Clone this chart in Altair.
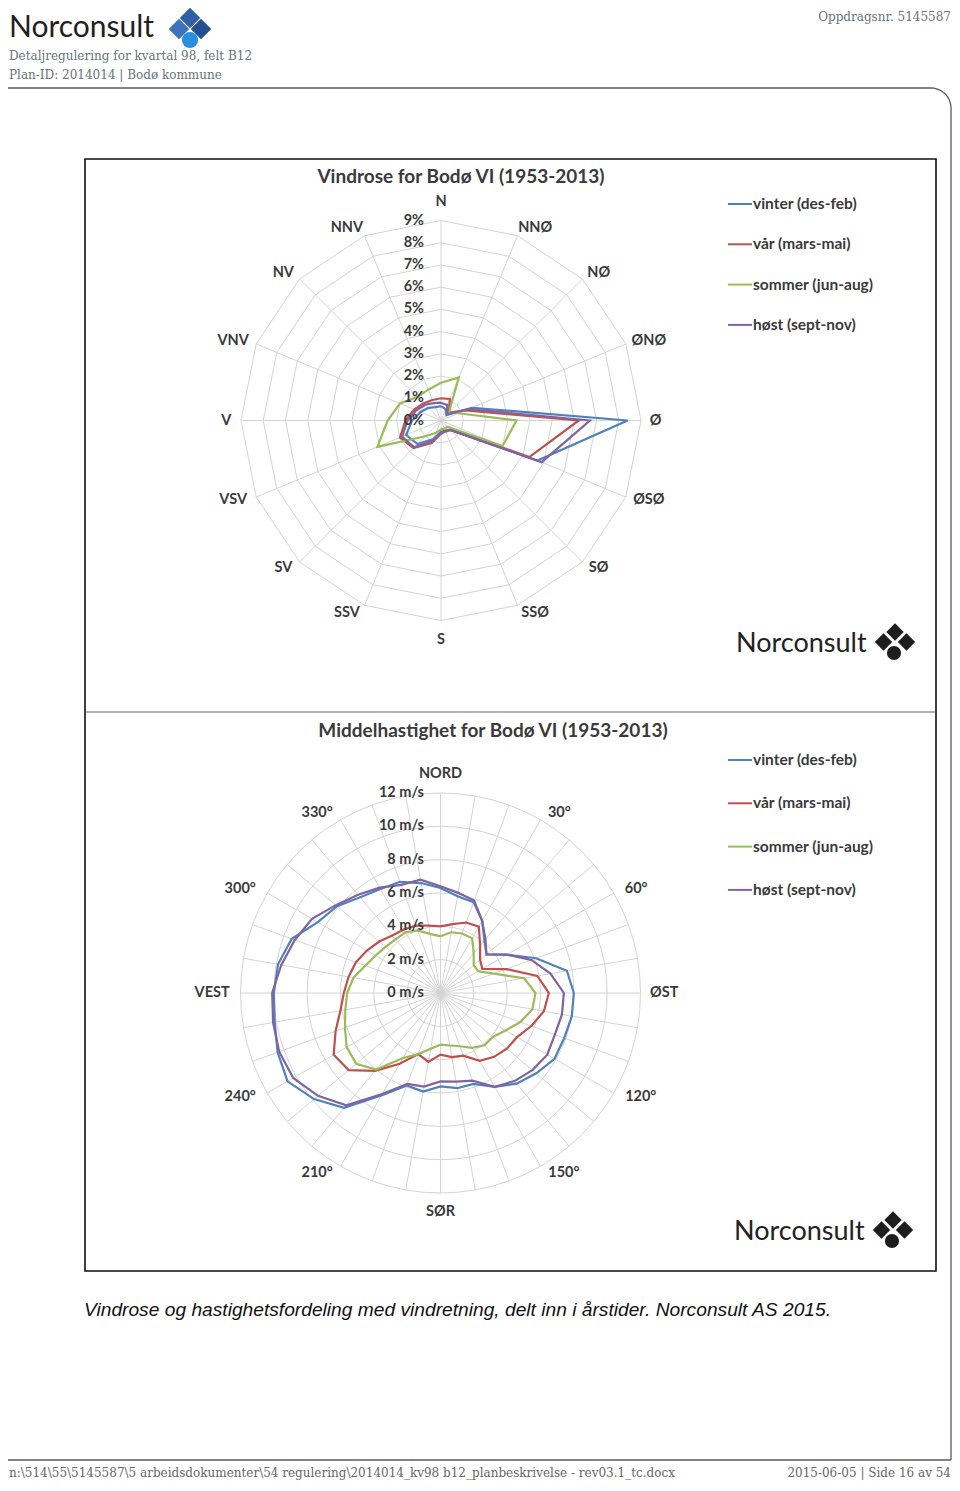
import math
import altair as alt
import pandas as pd
import numpy as np

# ---------------- data ----------------
directions16 = ["N", "NNØ", "NØ", "ØNØ", "Ø", "ØSØ", "SØ", "SSØ",
                "S", "SSV", "SV", "VSV", "V", "VNV", "NV", "NNV"]
seasons = ["vinter (des-feb)", "vår (mars-mai)", "sommer (jun-aug)", "høst (sept-nov)"]
season_colors = ["#4f81bd", "#c0504d", "#9bbb59", "#8064a2"]

# frequency (%) per direction, N clockwise
freq_vinter = [0.65, 0.55, 0.35, 1.5, 8.4, 4.7, 0.6, 0.5, 0.5, 0.9, 1.5, 1.7, 1.3, 1.0, 0.8, 0.65]
freq_var    = [1.0, 1.05, 0.5, 1.2, 6.2, 4.3, 0.6, 0.5, 0.6, 1.1, 1.75, 2.0, 1.6, 1.3, 1.1, 1.0]
freq_sommer = [1.7, 2.1, 0.5, 0.85, 3.4, 3.0, 0.4, 0.4, 0.4, 0.6, 1.0, 3.1, 2.4, 2.0, 1.5, 1.5]
freq_host   = [0.8, 0.75, 0.4, 1.35, 6.7, 4.9, 0.6, 0.55, 0.55, 1.0, 1.7, 1.9, 1.5, 1.2, 1.0, 0.85]
pct_ticks = ["0%", "1%", "2%", "3%", "4%", "5%", "6%", "7%", "8%", "9%"]

# mean speed (m/s) per 10 degrees, 0..350
speed_angles = list(range(0, 360, 10))
speed_vinter = [6.3, 5.9, 5.8, 5.0, 4.1, 3.6, 4.6, 6.1, 7.7, 8.0, 8.0, 7.9,
                7.9, 7.5, 7.1, 6.5, 5.8, 5.8, 5.6, 6.0, 5.9, 7.1, 9.0, 9.9,
                10.6, 10.4, 10.1, 10.0, 9.9, 9.5, 8.5, 8.1, 7.5, 7.2, 7.1, 6.7]
speed_var = [4.0, 4.2, 4.5, 4.6, 3.7, 3.1, 2.9, 4.2, 5.9, 6.5, 6.3, 5.8,
             5.3, 5.2, 5.0, 4.7, 4.0, 3.9, 3.7, 4.2, 3.9, 4.9, 6.1, 7.2,
             7.4, 6.7, 6.1, 5.8, 5.6, 5.4, 5.1, 4.8, 4.5, 4.4, 4.3, 4.1]
speed_sommer = [3.4, 3.7, 3.8, 3.8, 3.1, 2.6, 2.6, 3.4, 5.1, 5.7, 5.6, 5.1,
                4.5, 4.1, 4.1, 3.8, 3.4, 3.2, 3.1, 3.4, 3.9, 4.5, 6.0, 6.6,
                6.5, 6.1, 5.8, 5.6, 5.3, 4.8, 4.5, 4.3, 4.2, 4.2, 4.0, 3.6]
speed_host = [6.4, 6.1, 5.9, 5.0, 4.2, 3.6, 4.6, 5.8, 6.7, 7.4, 7.4, 7.3,
              7.4, 7.2, 6.9, 6.5, 5.6, 5.4, 5.3, 5.7, 5.8, 7.0, 8.8, 9.6,
              10.2, 10.3, 10.2, 10.1, 9.7, 9.3, 8.9, 8.2, 7.7, 7.3, 6.9, 6.9]
speed_ticks = ["0 m/s", "2 m/s", "4 m/s", "6 m/s", "8 m/s", "10 m/s", "12 m/s"]
compass_labels = ["NORD", "30°", "60°", "ØST", "120°", "150°",
                  "SØR", "210°", "240°", "VEST", "300°", "330°"]

# ---------------- layout ----------------
W, H = 944, 1475
CX1, CY1, R1, MAX1 = 441, 420.5, 200, 9
CX2, CY2, R2, MAX2 = 440.5, 993, 200, 12
LBL = "#3a3a3a"
CHART_FONT = "Lato"

# page pixel coordinates (the 8px body margin is the origin offset)
xs = alt.Scale(domain=[8, 8 + W], nice=False, zero=False)
ys = alt.Scale(domain=[8, 8 + H], nice=False, zero=False, reverse=True)
X = alt.X("x:Q", scale=xs, axis=None)
Y = alt.Y("y:Q", scale=ys, axis=None)
X2 = alt.X2("x2:Q")
Y2 = alt.Y2("y2:Q")
col = alt.Color("season:N", scale=alt.Scale(domain=seasons, range=season_colors), legend=None)

layers = []


def txt(x, y, s, size, color=LBL, weight="normal", font=CHART_FONT,
        align="left", baseline="alphabetic", style="normal"):
    df = pd.DataFrame({"x": [x], "y": [y], "t": [s]})
    return alt.Chart(df).mark_text(
        fontSize=size, color=color, fontWeight=weight, font=font,
        align=align, baseline=baseline, fontStyle=style
    ).encode(x=X, y=Y, text="t:N")


# ---------- page frame ----------
arc_t = np.linspace(-math.pi / 2, 0, 12)
frame_pts = [(8, 88)] + [(931 + 20 * math.cos(t), 108 + 20 * math.sin(t)) for t in arc_t] + [(951, 1460)]
frame = pd.DataFrame({"x": [p[0] for p in frame_pts], "y": [p[1] for p in frame_pts],
                      "o": list(range(len(frame_pts)))})
layers.append(alt.Chart(frame).mark_line(color="#5a5a5a", strokeWidth=1.3).encode(x=X, y=Y, order="o:Q"))
bottom = pd.DataFrame({"x": [8], "x2": [951], "y": [1460], "y2": [1460]})
layers.append(alt.Chart(bottom).mark_rule(color="#5a5a5a", strokeWidth=1.3).encode(x=X, x2=X2, y=Y, y2=Y2))

# ---------- header ----------
layers.append(txt(9, 28, "Norconsult", 30, color="#231f20", font="Lato", baseline="middle"))
logo_blue = pd.DataFrame({
    "x": [190, 179, 201], "y": [18, 29, 29],
    "c": ["#2f5fa6", "#3d73bd", "#244f93"]})
layers.append(alt.Chart(logo_blue).mark_point(shape="diamond", filled=True, size=420, opacity=1)
              .encode(x=X, y=Y, color=alt.Color("c:N", scale=None)))
logo_circ = pd.DataFrame({"x": [190], "y": [40]})
layers.append(alt.Chart(logo_circ).mark_point(shape="circle", filled=True, size=260, color="#2b8fe0", opacity=1)
              .encode(x=X, y=Y))
HDR = "#66747c"
layers.append(txt(9, 60, "Detaljregulering for kvartal 98, felt B12", 12, color=HDR, font="DejaVu Serif"))
layers.append(txt(9, 79, "Plan-ID: 2014014  | Bodø kommune", 12, color=HDR, font="DejaVu Serif"))
layers.append(txt(951, 21, "Oppdragsnr. 5145587", 12, color=HDR, font="DejaVu Serif", align="right"))

# ---------- chart box ----------
box = pd.DataFrame({"x": [85], "x2": [936], "y": [159], "y2": [1271]})
layers.append(alt.Chart(box).mark_rect(fill="white", stroke="#111111", strokeWidth=1.6)
              .encode(x=X, x2=X2, y=Y, y2=Y2))
div = pd.DataFrame({"x": [86], "x2": [935], "y": [712], "y2": [712]})
layers.append(alt.Chart(div).mark_rule(color="#9a9a9a", strokeWidth=1.5).encode(x=X, x2=X2, y=Y, y2=Y2))

# ---------- radar 1 grid ----------
rings1 = pd.DataFrame([{"lvl": l, "k": k} for l in range(1, MAX1 + 1) for k in range(17)])
layers.append(
    alt.Chart(rings1).transform_calculate(
        a="datum.k*PI/8",
        x=f"{CX1}+datum.lvl/{MAX1}*{R1}*sin(datum.a)",
        y=f"{CY1}-datum.lvl/{MAX1}*{R1}*cos(datum.a)",
    ).mark_line(color="#d4d4d4", strokeWidth=1).encode(x=X, y=Y, order="k:Q", detail="lvl:N"))
spokes1 = pd.DataFrame({"k": list(range(16))})
layers.append(
    alt.Chart(spokes1).transform_calculate(
        a="datum.k*PI/8", x=f"{CX1}", y=f"{CY1}",
        x2=f"{CX1}+{R1}*sin(datum.a)", y2=f"{CY1}-{R1}*cos(datum.a)",
    ).mark_rule(color="#d4d4d4", strokeWidth=1).encode(x=X, y=Y, x2=X2, y2=Y2))

# ---------- radar 1 series ----------
rows = []
for s, vals in zip(seasons, [freq_vinter, freq_var, freq_sommer, freq_host]):
    for k in range(17):
        rows.append({"season": s, "k": k, "v": vals[k % 16]})
r1 = pd.DataFrame(rows)
layers.append(
    alt.Chart(r1).transform_calculate(
        a="datum.k*PI/8",
        x=f"{CX1}+datum.v/{MAX1}*{R1}*sin(datum.a)",
        y=f"{CY1}-datum.v/{MAX1}*{R1}*cos(datum.a)",
    ).mark_line(strokeWidth=2.2, strokeJoin="miter").encode(x=X, y=Y, color=col, order="k:Q", detail="season:N"))

# label placement outside the outer ring (box edge anchored, like the spreadsheet chart)
SGN_S = "(sin(datum.a)>0.01?1:(sin(datum.a)<-0.01?-1:0))"
SGN_C = "(cos(datum.a)>0.99?1:(cos(datum.a)<-0.99?-1:0))"


def outer_labels(df, cx, cy, angle_expr):
    return (alt.Chart(df).transform_calculate(
        a=angle_expr,
        x=f"{cx}+210*sin(datum.a)+{SGN_S}*length(datum.t)*4.6",
        y=f"{cy}-208*cos(datum.a)-{SGN_C}*11",
    ).mark_text(fontSize=14.5, fontWeight="bold", font=CHART_FONT, color=LBL, baseline="middle", align="center")
        .encode(x=X, y=Y, text="t:N"))


dl = pd.DataFrame({"t": directions16, "k": list(range(16))})
layers.append(outer_labels(dl, CX1, CY1, "datum.k*PI/8"))
pl = pd.DataFrame({"t": pct_ticks, "lvl": list(range(10))})
layers.append(
    alt.Chart(pl).transform_calculate(
        x="424", y=f"{CY1}-datum.lvl/{MAX1}*{R1}",
    ).mark_text(fontSize=14.5, fontWeight="bold", font=CHART_FONT, color=LBL, baseline="middle", align="right")
    .encode(x=X, y=Y, text="t:N"))
layers.append(txt(461, 177, "Vindrose for Bodø VI (1953-2013)", 19, weight="bold", align="center", baseline="middle"))

# ---------- radar 2 grid ----------
rings2 = pd.DataFrame([{"lvl": l, "k": k} for l in range(2, MAX2 + 1, 2) for k in range(73)])
layers.append(
    alt.Chart(rings2).transform_calculate(
        a="datum.k*PI/36",
        x=f"{CX2}+datum.lvl/{MAX2}*{R2}*sin(datum.a)",
        y=f"{CY2}-datum.lvl/{MAX2}*{R2}*cos(datum.a)",
    ).mark_line(color="#d4d4d4", strokeWidth=1).encode(x=X, y=Y, order="k:Q", detail="lvl:N"))
spokes2 = pd.DataFrame({"d": speed_angles})
layers.append(
    alt.Chart(spokes2).transform_calculate(
        a="datum.d*PI/180", x=f"{CX2}", y=f"{CY2}",
        x2=f"{CX2}+{R2}*sin(datum.a)", y2=f"{CY2}-{R2}*cos(datum.a)",
    ).mark_rule(color="#d4d4d4", strokeWidth=1).encode(x=X, y=Y, x2=X2, y2=Y2))

# ---------- radar 2 series ----------
rows = []
for s, vals in zip(seasons, [speed_vinter, speed_var, speed_sommer, speed_host]):
    for k in range(37):
        rows.append({"season": s, "k": k, "d": speed_angles[k % 36], "v": vals[k % 36]})
r2 = pd.DataFrame(rows)
layers.append(
    alt.Chart(r2).transform_calculate(
        a="datum.d*PI/180",
        x=f"{CX2}+datum.v/{MAX2}*{R2}*sin(datum.a)",
        y=f"{CY2}-datum.v/{MAX2}*{R2}*cos(datum.a)",
    ).mark_line(strokeWidth=2.2).encode(x=X, y=Y, color=col, order="k:Q", detail="season:N"))

# ---------- radar 2 labels ----------
cl = pd.DataFrame({"t": compass_labels, "d": list(range(0, 360, 30))})
layers.append(outer_labels(cl, CX2, CY2, "datum.d*PI/180"))
sl = pd.DataFrame({"t": speed_ticks, "lvl": list(range(0, 13, 2))})
layers.append(
    alt.Chart(sl).transform_calculate(
        x="424", y=f"{CY2}-datum.lvl/{MAX2}*{R2}",
    ).mark_text(fontSize=14.5, fontWeight="bold", font=CHART_FONT, color=LBL, baseline="middle", align="right")
    .encode(x=X, y=Y, text="t:N"))
layers.append(txt(493, 731, "Middelhastighet for Bodø VI (1953-2013)", 19, weight="bold", align="center", baseline="middle"))

# ---------- legends ----------
for y0, dy in [(204, 40.3), (760, 43.3)]:
    lg = pd.DataFrame({"season": seasons, "i": list(range(4))})
    base = alt.Chart(lg).transform_calculate(y=f"{y0}+datum.i*{dy}", y2=f"{y0}+datum.i*{dy}",
                                             x="728", x2="752", xt="753")
    layers.append(base.mark_rule(strokeWidth=2).encode(x=X, x2=X2, y=Y, y2=Y2, color=col))
    layers.append(base.mark_text(fontSize=15.5, fontWeight="bold", font=CHART_FONT, color=LBL,
                                 align="left", baseline="middle")
                  .encode(x=alt.X("xt:Q", scale=xs, axis=None), y=Y, text="season:N"))

# ---------- black logos ----------
for lx, ly in [(736, 643), (734, 1231)]:
    layers.append(txt(lx, ly + 9, "Norconsult", 27, color="#222222", font="Lato"))
    dx0 = lx + 159
    dm = pd.DataFrame({"x": [dx0, dx0 - 11.5, dx0 + 11.5], "y": [ly - 11, ly - 1, ly - 1]})
    layers.append(alt.Chart(dm).mark_point(shape="diamond", filled=True, size=300, color="#1e1e1e", opacity=1)
                  .encode(x=X, y=Y))
    ci = pd.DataFrame({"x": [dx0 - 1], "y": [ly + 10]})
    layers.append(alt.Chart(ci).mark_point(shape="circle", filled=True, size=200, color="#1e1e1e", opacity=1)
                  .encode(x=X, y=Y))

# ---------- caption & footer ----------
layers.append(txt(84, 1316, "Vindrose og hastighetsfordeling med vindretning, delt inn i årstider. Norconsult AS 2015.",
                  19.2, color="#111111", font="Liberation Sans", style="italic"))
layers.append(txt(9, 1473, "n:\\514\\55\\5145587\\5 arbeidsdokumenter\\54 regulering\\2014014_kv98 b12_planbeskrivelse - rev03.1_tc.docx",
                  12, color="#666666", font="DejaVu Serif", baseline="middle"))
layers.append(txt(951, 1473, "2015-06-05 | Side 16 av 54", 12, color="#666666", font="DejaVu Serif",
                  align="right", baseline="middle"))

chart = alt.layer(*layers).properties(
    width=W, height=H, padding=0, autosize=alt.AutoSizeParams(type="none"), background="white"
).configure_view(stroke=None)

chart.save("out.html", embed_options={"renderer": "svg", "actions": False})
